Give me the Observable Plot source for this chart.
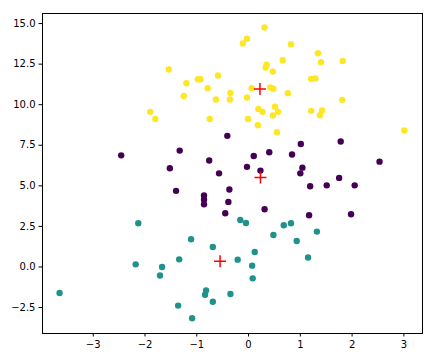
<!DOCTYPE html>
<html>
<head>
<meta charset="utf-8">
<script src="https://cdn.jsdelivr.net/npm/d3@7"></script>
<script src="https://cdn.jsdelivr.net/npm/@observablehq/plot@0.6"></script>
<style>
  html, body { margin: 0; padding: 0; background: #fff; }
</style>
</head>
<body>
<div id="chart"></div>
<script>
// Cluster 0 (purple)
const purpleX = [-0.41,-2.46,-1.33,-0.76,0.10,0.40,0.84,1.01,1.78,2.53,-1.52,-0.57,-0.03,0.23,1.04,1.00,1.75,-1.40,-0.86,-0.86,-0.86,-0.37,-0.39,-0.45,0.31,1.19,1.51,2.05,1.17,1.98];
const purpleY = [8.08,6.88,7.17,6.56,6.84,7.07,6.93,7.58,7.73,6.49,6.08,5.77,6.17,5.94,6.12,5.77,5.49,4.69,4.40,4.15,3.86,4.77,4.01,3.31,3.56,4.97,5.03,5.03,3.19,3.25];
// Cluster 1 (teal)
const tealX = [-2.13,-0.16,-0.05,0.68,0.82,0.48,1.32,-1.11,-0.69,0.12,0.93,1.15,-2.18,-1.67,-1.34,-0.21,0.07,-1.71,0.08,-3.65,-0.82,-0.84,-0.35,-0.69,-1.36,-1.09];
const tealY = [2.69,2.90,2.71,2.57,2.69,1.97,2.18,1.71,1.23,0.92,1.60,0.58,0.16,0.00,0.47,0.45,0.08,-0.53,-0.70,-1.60,-1.44,-1.71,-1.67,-2.14,-2.38,-3.16];
// Cluster 2 (yellow)
const yellowX = [0.31,-0.03,-0.11,0.82,1.34,1.40,1.82,0.66,0.35,0.33,0.47,-1.54,-0.59,-1.20,-0.98,-0.93,-0.79,0.06,0.42,0.48,1.21,1.29,-1.25,-0.35,0.76,-0.63,-0.36,-0.03,1.81,-1.90,0.19,0.27,0.51,0.57,0.47,1.21,1.42,1.38,-1.80,-0.75,-0.01,0.18,0.55,3.01];
const yellowY = [14.76,14.06,13.77,13.73,13.17,12.62,12.70,12.74,12.47,12.29,12.04,12.17,11.80,11.32,11.57,11.57,11.02,11.02,11.06,10.99,11.59,11.61,10.54,10.73,10.71,10.32,10.32,10.44,10.30,9.56,9.74,9.56,9.88,9.56,9.33,9.62,9.64,9.35,9.12,9.12,9.12,8.73,8.30,8.41];
// Centroids
const centroidX = [0.23, -0.55, 0.22];
const centroidY = [5.51, 0.35, 10.97];

const clusterColors = ["#440154", "#21918c", "#fde725"];
const xTicks = [-3, -2, -1, 0, 1, 2, 3];
const yTicks = [-2.5, 0, 2.5, 5, 7.5, 10, 12.5, 15];

const points = [];
[[purpleX, purpleY], [tealX, tealY], [yellowX, yellowY]].forEach(([xs, ys], c) => {
  xs.forEach((x, i) => points.push({x, y: ys[i], c}));
});
const centroids = centroidX.map((x, i) => ({x, y: centroidY[i]}));

const plusSymbol = {
  draw(context, size) {
    const h = 6;
    context.moveTo(-h, 0); context.lineTo(h, 0);
    context.moveTo(0, -h); context.lineTo(0, h);
  }
};

const chart = Plot.plot({
  width: 446,
  height: 359,
  marginLeft: 42,
  marginRight: 24,
  marginTop: 13,
  marginBottom: 26,
  style: {fontFamily: "DejaVu Sans", fontSize: "10px", background: "#fff", color: "#000"},
  x: {domain: [-3.98, 3.36]},
  y: {domain: [-4.1, 15.62]},
  marks: [
    Plot.dot(points, {x: "x", y: "y", r: 3.2, fill: d => clusterColors[d.c], stroke: "none"}),
    Plot.dot(centroids, {x: "x", y: "y", symbol: plusSymbol, stroke: "#ff0000", strokeWidth: 1.5, fill: "none", r: 6}),
    Plot.frame({stroke: "#000", strokeWidth: 1}),
    Plot.axisX({ticks: xTicks, tickSize: 3.5, tickPadding: 3.5, tickFormat: d3.format("d"), label: null, fontSize: 10}),
    Plot.axisY({ticks: yTicks, tickSize: 3.5, tickPadding: 3.5, tickFormat: d3.format(".1f"), label: null, fontSize: 10})
  ]
});
document.getElementById("chart").appendChild(chart);
</script>
</body>
</html>
